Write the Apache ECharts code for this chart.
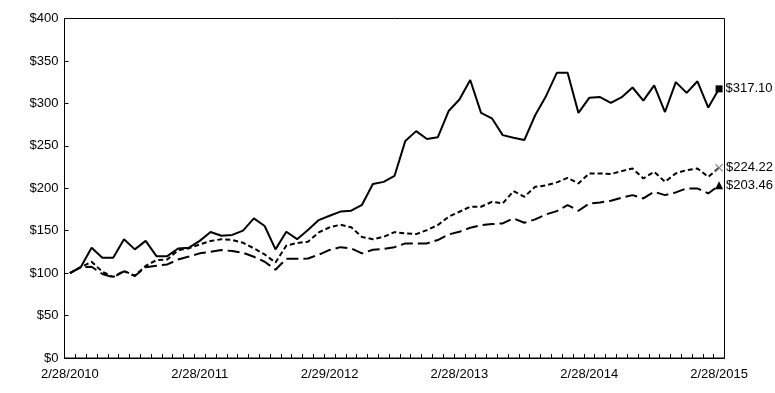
<!DOCTYPE html>
<html>
<head>
<meta charset="utf-8">
<script src="https://cdn.jsdelivr.net/npm/echarts@6/dist/echarts.min.js"></script>
<style>
html,body{margin:0;padding:0;background:#fff;}
#chart{width:775px;height:393px;}
</style>
</head>
<body>
<div id="chart"></div>
<script>
var categories = [
'2/28/2010','3/31/2010','4/30/2010','5/31/2010','6/30/2010','7/31/2010','8/31/2010','9/30/2010','10/31/2010','11/30/2010','12/31/2010','1/31/2011',
'2/28/2011','3/31/2011','4/30/2011','5/31/2011','6/30/2011','7/31/2011','8/31/2011','9/30/2011','10/31/2011','11/30/2011','12/31/2011','1/31/2012',
'2/29/2012','3/31/2012','4/30/2012','5/31/2012','6/30/2012','7/31/2012','8/31/2012','9/30/2012','10/31/2012','11/30/2012','12/31/2012','1/31/2013',
'2/28/2013','3/31/2013','4/30/2013','5/31/2013','6/30/2013','7/31/2013','8/31/2013','9/30/2013','10/31/2013','11/30/2013','12/31/2013','1/31/2014',
'2/28/2014','3/31/2014','4/30/2014','5/31/2014','6/30/2014','7/31/2014','8/31/2014','9/30/2014','10/31/2014','11/30/2014','12/31/2014','1/31/2015',
'2/28/2015'
];

var seriesSolid = [
100,107,130,118,118,140,128,138,120,120,129,130,
138,148.5,144,145,150,164.5,155.5,128,148.7,140,150.7,162.5,
167.6,172.5,173.5,180.5,205,207.5,214.5,255.8,267.3,258,260,291,
304.6,327.5,288.8,282.4,262.6,259.6,256.8,286,308.5,336,336,288.8,
306.5,307.5,300.6,307.3,318.7,303.2,321.2,289.8,325,312.4,326,295,
317.10
];

var seriesShortDash = [
100,107,113.4,101.6,95.5,102.5,97,108.5,115.4,116,127,129.2,
133.8,137.8,140,139,135.8,129.2,122,112.5,132.4,135.5,137,148,
154,157,154,142.5,140,142.8,148.3,146.8,146,150.7,156.6,166.4,
172.3,178.2,178.2,184,182.1,196.6,190,201.7,203.3,206.9,212.3,205.7,
217.5,217.5,216.7,220.2,223.3,211.6,219.4,207.6,217.5,221.4,223.3,213.5,
224.22
];

var seriesLongDash = [
100,107,107.5,99,95,102,96.5,107,108.7,110.3,116,119.5,
123.3,125.2,127.2,126,124,119.3,113.4,104,117,116.8,117.2,121.7,
127.3,130.6,129.2,123.3,127.5,128.5,130.6,135,135,135,139,145.6,
148.7,153.4,156.6,157.8,158.6,164.5,159.3,163.3,169.2,173.1,180.2,173.5,
182.1,183.3,185.2,188.8,191.9,188,195.8,191.9,195.1,199.8,199.8,193.9,
203.46
];

var endLabels = ['$317.10', '$224.22', '$203.46'];

var FONT = '"Liberation Sans", Arial, sans-serif';

function buildData(values, symbol, size, color, labelText) {
  return values.map(function (v, i) {
    if (i === values.length - 1) {
      return {
        value: v,
        symbol: symbol,
        symbolSize: size,
        itemStyle: { color: color, borderWidth: 0 },
        label: {
          show: true, position: 'right', distance: 3,
          formatter: labelText, color: '#000',
          fontFamily: FONT, fontSize: 13
        }
      };
    }
    return v;
  });
}

var crossPath = 'path://M0,1L1,0L5,4L9,0L10,1L6,5L10,9L9,10L5,6L1,10L0,9L4,5Z';

var chart = echarts.init(document.getElementById('chart'), null, { renderer: 'canvas' });
chart.setOption({
  animation: false,
  backgroundColor: '#fff',
  grid: {
    left: 64.5, right: 50.5, top: 18.5, bottom: 35,
    show: true, borderColor: '#000', borderWidth: 1, containLabel: false
  },
  xAxis: {
    type: 'category',
    data: categories,
    boundaryGap: true,
    axisLine: { show: true, lineStyle: { color: '#000', width: 1 } },
    axisTick: { show: true, inside: true, length: 4, interval: 0, lineStyle: { color: '#000' } },
    axisLabel: {
      interval: 11, color: '#000', fontFamily: FONT, fontSize: 13, margin: 10
    },
    splitLine: { show: false }
  },
  yAxis: {
    type: 'value',
    min: 0, max: 400, interval: 50,
    axisLine: { show: true, lineStyle: { color: '#000', width: 1 } },
    axisTick: { show: true, inside: true, length: 4, lineStyle: { color: '#000' } },
    axisLabel: {
      color: '#000', fontFamily: FONT, fontSize: 13, margin: 6,
      formatter: function (v) { return '$' + v; }
    },
    splitLine: { show: false }
  },
  series: [
    {
      type: 'line', name: 'A',
      data: buildData(seriesSolid, 'rect', 7, '#000', endLabels[0]),
      symbol: 'none', showSymbol: true,
      lineStyle: { color: '#000', width: 2, type: 'solid' },
      itemStyle: { color: '#000' }
    },
    {
      type: 'line', name: 'B',
      data: buildData(seriesShortDash, crossPath, 8, '#808080', endLabels[1]),
      symbol: 'none', showSymbol: true,
      lineStyle: { color: '#000', width: 2, type: [5, 3] },
      itemStyle: { color: '#808080' }
    },
    {
      type: 'line', name: 'C',
      data: buildData(seriesLongDash, 'triangle', 8, '#000', endLabels[2]),
      symbol: 'none', showSymbol: true,
      lineStyle: { color: '#000', width: 2, type: [12, 5] },
      itemStyle: { color: '#000' }
    }
  ]
});
</script>
</body>
</html>
